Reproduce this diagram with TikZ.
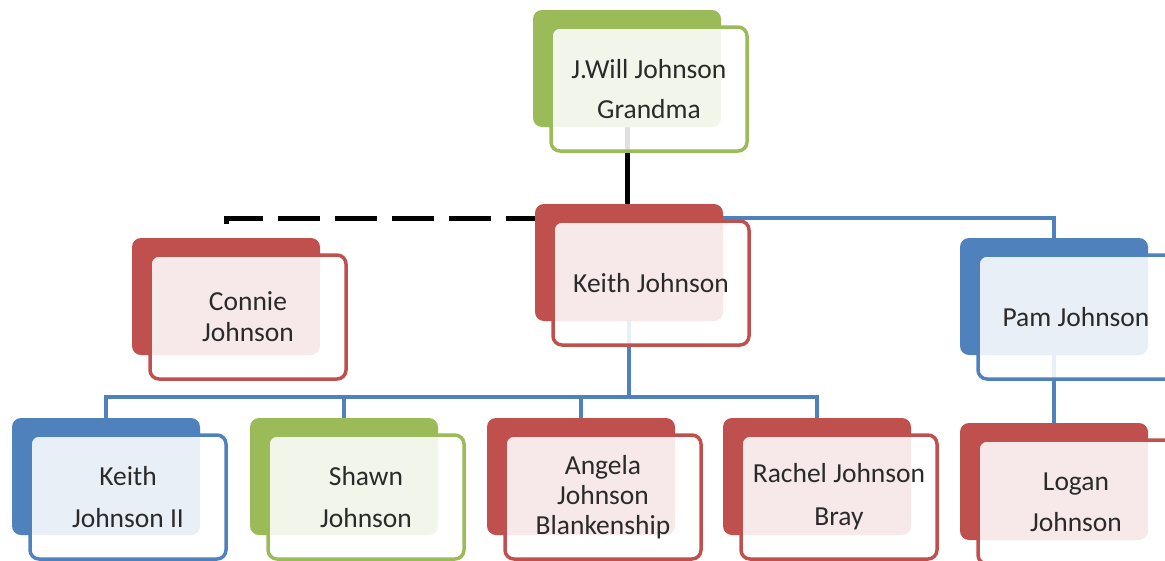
\documentclass[tikz,border=0pt]{standalone}
\usepackage{fontspec}
\setmainfont{Carlito}
\usetikzlibrary{calc}
\definecolor{cRed}{HTML}{C0504D}
\definecolor{cGreen}{HTML}{9BBB59}
\definecolor{cBlue}{HTML}{4F81BD}
\definecolor{txt}{HTML}{2A2A2A}
\pgfdeclarelayer{bg}
\pgfsetlayers{bg,main}
\tikzset{
 backbox/.style={fill=#1, rounded corners=9pt, minimum width=188pt, minimum height=117pt, inner sep=0pt, draw=none},
 frontbox/.style={draw=#1, line width=3.5pt, fill=white, fill opacity=0.88, text opacity=1, rounded corners=9pt, minimum width=196pt, minimum height=124pt, inner sep=0pt, align=center, text=txt},
 conn/.style={draw=cBlue, line width=4pt},
 solidconn/.style={draw=black, line width=5pt},
 dconn/.style={draw=black, line width=5pt, dash pattern=on 42pt off 15pt},
}
\newcommand\person[6]{%
 \node[backbox=#4] (#1b) at (#2+94, #3+58.5) {};
 \node[frontbox=#4, font=\fontsize{27.5}{#5}\selectfont] (#1) at (#2+116, #3+79) {#6};
}
\begin{document}
\begin{tikzpicture}[x=1pt,y=-1pt]
\useasboundingbox (0,0) rectangle (1165,560);
\clip (0,0) rectangle (1165,560);
\person{g}{533}{10}{cGreen}{40}{J.Will Johnson\\Grandma}
\person{k}{535}{204}{cRed}{31}{Keith Johnson}
\person{c}{132}{238}{cRed}{31}{Connie\\Johnson}
\person{p}{960}{238}{cBlue}{31}{Pam Johnson}
\person{kk}{12}{418}{cBlue}{42}{Keith\\Johnson II}
\person{s}{250}{418}{cGreen}{42}{Shawn\\Johnson}
\person{a}{487}{418}{cRed}{30}{Angela\\Johnson\\Blankenship}
\person{r}{723}{418}{cRed}{43}{Rachel Johnson\\Bray}
\person{l}{960}{423}{cRed}{41}{Logan\\Johnson}
\begin{pgfonlayer}{bg}
\coordinate (bus) at (629,397);
\coordinate (cstub) at ([yshift=14pt]cb.north);
\draw[solidconn] (gb.south) -- (gb.south |- kb.north);
\draw[dconn] (cstub) |- ([yshift=-15pt]kb.north);
\draw[conn] ([yshift=-14pt]kb.north) -| (pb.north);
\draw[conn] (kb.south) -- (bus) -| (kkb.north);
\draw[conn] (bus) -| (sb.north);
\draw[conn] (bus) -| (ab.north);
\draw[conn] (bus) -| (rb.north);
\draw[conn] (pb.south) -- (lb.north);
\end{pgfonlayer}
\end{tikzpicture}
\end{document}
